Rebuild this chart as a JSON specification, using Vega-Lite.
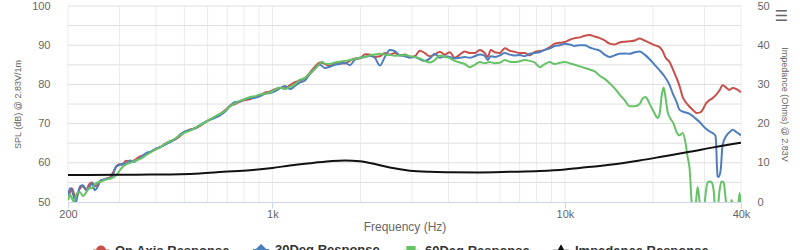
{
  "$schema": "https://vega.github.io/schema/vega-lite/v6.json",
  "width": 673,
  "height": 196,
  "autosize": {"type": "none"},
  "padding": {"left": 68, "top": 6, "right": 59, "bottom": 48},
  "background": "white",
  "title": {"text": "☰", "anchor": "end", "frame": "bounds", "orient": "top", "offset": -17, "dy": 7, "font": "DejaVu Sans", "fontSize": 15, "fontWeight": "normal", "color": "#666666"},
  "config": {
    "view": {"stroke": null},
    "font": "Liberation Sans",
    "axis": {"labelFont": "Liberation Sans", "titleFont": "Liberation Sans", "labelColor": "#666666", "titleColor": "#666666", "titleFontWeight": "normal", "labelFontSize": 11}
  },
  "datasets": {
    "grid": [{"f":200},{"f":300},{"f":400},{"f":500},{"f":600},{"f":700},{"f":800},{"f":900},{"f":1000},{"f":2000},{"f":3000},{"f":4000},{"f":5000},{"f":6000},{"f":7000},{"f":8000},{"f":9000},{"f":10000},{"f":20000},{"f":30000},{"f":40000}],
    "hgrid": [{"s":55},{"s":60},{"s":65},{"s":70},{"s":75},{"s":80},{"s":85},{"s":90},{"s":95},{"s":100}],
    "on": [{"f":200,"v":50.5},{"f":203,"v":52.5},{"f":206,"v":53.5},{"f":210,"v":52},{"f":213,"v":51},{"f":216,"v":52},{"f":220,"v":53.5},{"f":225,"v":54},{"f":231,"v":53},{"f":236,"v":54.5},{"f":242,"v":55},{"f":247,"v":54},{"f":253,"v":54.5},{"f":259,"v":55.5},{"f":266,"v":55.6},{"f":272,"v":56},{"f":279,"v":56.3},{"f":285,"v":57.5},{"f":292,"v":59},{"f":299,"v":59.6},{"f":306,"v":59.5},{"f":316,"v":60.5},{"f":326,"v":60.3},{"f":336,"v":60.6},{"f":347,"v":61.3},{"f":358,"v":61.8},{"f":370,"v":62.2},{"f":382,"v":62.7},{"f":397,"v":63.4},{"f":413,"v":64},{"f":429,"v":64.8},{"f":447,"v":65.5},{"f":465,"v":66},{"f":483,"v":66.8},{"f":502,"v":67.8},{"f":523,"v":68.5},{"f":544,"v":68.8},{"f":565,"v":69.4},{"f":588,"v":70.3},{"f":612,"v":71},{"f":636,"v":71.7},{"f":662,"v":72.4},{"f":688,"v":73.4},{"f":716,"v":74.5},{"f":745,"v":75},{"f":774,"v":75.6},{"f":805,"v":76},{"f":838,"v":76.2},{"f":871,"v":76.8},{"f":906,"v":77.2},{"f":943,"v":77.9},{"f":981,"v":78.2},{"f":1020,"v":78.8},{"f":1061,"v":79.1},{"f":1103,"v":79},{"f":1148,"v":79.8},{"f":1194,"v":80.6},{"f":1241,"v":81},{"f":1291,"v":81.6},{"f":1343,"v":83},{"f":1397,"v":84.5},{"f":1453,"v":85.6},{"f":1511,"v":85.2},{"f":1572,"v":84.7},{"f":1635,"v":85.3},{"f":1701,"v":85.6},{"f":1769,"v":85.3},{"f":1840,"v":86},{"f":1914,"v":86.6},{"f":1990,"v":86.6},{"f":2070,"v":87.7},{"f":2153,"v":87.6},{"f":2240,"v":87},{"f":2329,"v":87.2},{"f":2423,"v":88},{"f":2520,"v":87.6},{"f":2621,"v":88},{"f":2726,"v":87.4},{"f":2836,"v":87.6},{"f":2949,"v":87},{"f":3068,"v":87.2},{"f":3191,"v":88.6},{"f":3319,"v":88},{"f":3452,"v":87.2},{"f":3591,"v":87.6},{"f":3735,"v":88.3},{"f":3884,"v":87.6},{"f":4040,"v":88.2},{"f":4202,"v":86.8},{"f":4371,"v":87.6},{"f":4546,"v":88.4},{"f":4729,"v":88},{"f":4918,"v":88},{"f":5116,"v":88.8},{"f":5321,"v":88},{"f":5448,"v":87},{"f":5578,"v":88.8},{"f":5756,"v":88.2},{"f":5987,"v":88},{"f":6227,"v":89.2},{"f":6477,"v":88.6},{"f":6737,"v":88.3},{"f":7007,"v":88},{"f":7288,"v":88},{"f":7581,"v":87.4},{"f":7885,"v":88.3},{"f":8201,"v":88.5},{"f":8530,"v":88.8},{"f":8872,"v":89.5},{"f":9228,"v":90.4},{"f":9599,"v":90.6},{"f":9984,"v":90.8},{"f":10384,"v":91.4},{"f":10801,"v":91.8},{"f":11234,"v":92},{"f":11685,"v":92.4},{"f":12153,"v":92.6},{"f":12641,"v":92.2},{"f":13148,"v":91.8},{"f":13676,"v":91.2},{"f":14224,"v":90.4},{"f":14795,"v":90.2},{"f":15388,"v":90.7},{"f":16006,"v":90.9},{"f":16648,"v":91},{"f":17316,"v":91.2},{"f":18010,"v":91.7},{"f":18733,"v":91.2},{"f":19484,"v":90.6},{"f":20266,"v":90},{"f":21079,"v":89.5},{"f":21583,"v":88.5},{"f":22097,"v":86.8},{"f":22804,"v":85.7},{"f":23346,"v":84},{"f":24095,"v":81.6},{"f":24671,"v":79.5},{"f":25261,"v":76.8},{"f":25863,"v":75.5},{"f":26690,"v":74.3},{"f":27543,"v":73.3},{"f":28201,"v":72.7},{"f":28874,"v":72.8},{"f":29564,"v":73.5},{"f":30270,"v":75},{"f":31238,"v":76},{"f":31984,"v":76.5},{"f":32748,"v":77.2},{"f":33794,"v":78.5},{"f":34601,"v":79.8},{"f":35428,"v":79.3},{"f":36560,"v":78.6},{"f":37433,"v":79.1},{"f":38630,"v":78.8},{"f":40000,"v":78}],
    "d30": [{"f":200,"v":51.5},{"f":203,"v":53.5},{"f":206,"v":53},{"f":210,"v":51},{"f":213,"v":50},{"f":216,"v":52},{"f":220,"v":54},{"f":225,"v":54.3},{"f":231,"v":53},{"f":236,"v":53.5},{"f":242,"v":54.8},{"f":247,"v":53},{"f":253,"v":54},{"f":259,"v":55.5},{"f":266,"v":55.8},{"f":272,"v":56},{"f":279,"v":56},{"f":285,"v":57},{"f":292,"v":59},{"f":299,"v":59.4},{"f":306,"v":59.7},{"f":316,"v":59.8},{"f":326,"v":60.6},{"f":336,"v":60.2},{"f":347,"v":60.9},{"f":358,"v":61.6},{"f":370,"v":62.5},{"f":382,"v":62.8},{"f":397,"v":63.5},{"f":413,"v":64},{"f":429,"v":64.6},{"f":447,"v":65.3},{"f":465,"v":66},{"f":483,"v":67.2},{"f":502,"v":68},{"f":523,"v":68.4},{"f":544,"v":68.8},{"f":565,"v":69.6},{"f":588,"v":70.4},{"f":612,"v":71},{"f":636,"v":71.5},{"f":662,"v":72.1},{"f":688,"v":73},{"f":716,"v":74.5},{"f":745,"v":75.5},{"f":774,"v":75.6},{"f":805,"v":76.3},{"f":838,"v":76.5},{"f":871,"v":76.6},{"f":906,"v":77},{"f":943,"v":77.6},{"f":981,"v":77.8},{"f":1020,"v":78.2},{"f":1061,"v":79},{"f":1103,"v":79.6},{"f":1148,"v":78.8},{"f":1194,"v":79.6},{"f":1241,"v":80.5},{"f":1291,"v":81},{"f":1343,"v":82.6},{"f":1397,"v":84},{"f":1453,"v":85},{"f":1511,"v":84.2},{"f":1572,"v":84.5},{"f":1635,"v":85},{"f":1701,"v":85.2},{"f":1769,"v":85.5},{"f":1840,"v":84.9},{"f":1914,"v":86.3},{"f":1990,"v":86.8},{"f":2070,"v":87},{"f":2153,"v":87.3},{"f":2240,"v":86.8},{"f":2329,"v":84.8},{"f":2423,"v":87},{"f":2520,"v":88.8},{"f":2621,"v":88.5},{"f":2726,"v":87.4},{"f":2836,"v":87.2},{"f":2949,"v":86.8},{"f":3068,"v":87},{"f":3191,"v":86.4},{"f":3319,"v":86},{"f":3452,"v":86.6},{"f":3591,"v":87.8},{"f":3735,"v":86.8},{"f":3884,"v":87.2},{"f":4040,"v":87},{"f":4202,"v":86.6},{"f":4371,"v":86.8},{"f":4546,"v":87},{"f":4729,"v":86.8},{"f":4918,"v":87.2},{"f":5116,"v":87.6},{"f":5321,"v":87.3},{"f":5448,"v":86.2},{"f":5578,"v":87.2},{"f":5756,"v":87},{"f":5987,"v":87.4},{"f":6227,"v":88},{"f":6477,"v":87.6},{"f":6737,"v":87.4},{"f":7007,"v":87.5},{"f":7288,"v":87.2},{"f":7581,"v":87.8},{"f":7885,"v":88},{"f":8201,"v":88.2},{"f":8530,"v":88.8},{"f":8872,"v":89.2},{"f":9228,"v":89.8},{"f":9599,"v":90},{"f":9984,"v":90.4},{"f":10384,"v":90.2},{"f":10801,"v":89.8},{"f":11234,"v":90},{"f":11685,"v":90},{"f":12153,"v":89.4},{"f":12641,"v":89},{"f":13148,"v":88.6},{"f":13676,"v":87.6},{"f":14224,"v":87},{"f":14795,"v":87.4},{"f":15388,"v":87.8},{"f":16006,"v":87.9},{"f":16648,"v":87.8},{"f":17316,"v":88.2},{"f":18010,"v":88.4},{"f":18733,"v":87.6},{"f":19484,"v":86.4},{"f":20266,"v":85},{"f":21079,"v":83.6},{"f":21925,"v":82},{"f":22804,"v":79.8},{"f":23346,"v":77.8},{"f":24095,"v":75.5},{"f":24671,"v":73.5},{"f":25661,"v":72.9},{"f":26690,"v":72.5},{"f":27761,"v":71.5},{"f":28874,"v":70.4},{"f":30033,"v":69},{"f":31238,"v":68},{"f":31984,"v":67.6},{"f":32748,"v":66.8},{"f":33267,"v":56.6},{"f":33530,"v":56.4},{"f":34061,"v":58},{"f":34601,"v":64.5},{"f":35708,"v":67},{"f":36560,"v":67.8},{"f":37433,"v":68.4},{"f":38630,"v":67.8},{"f":40000,"v":67}],
    "d60": [{"f":200,"v":50.5},{"f":203,"v":52},{"f":206,"v":51},{"f":210,"v":50},{"f":213,"v":51.5},{"f":216,"v":52.5},{"f":220,"v":52.5},{"f":225,"v":51.5},{"f":231,"v":52.5},{"f":236,"v":53.5},{"f":242,"v":53.5},{"f":247,"v":54.5},{"f":253,"v":55},{"f":259,"v":55.2},{"f":266,"v":55.6},{"f":272,"v":55.8},{"f":279,"v":56},{"f":285,"v":56.2},{"f":292,"v":56.8},{"f":299,"v":57.8},{"f":306,"v":58.8},{"f":316,"v":59.6},{"f":326,"v":60},{"f":336,"v":60.4},{"f":347,"v":60.8},{"f":358,"v":61.2},{"f":370,"v":62},{"f":382,"v":62.6},{"f":397,"v":63.3},{"f":413,"v":63.9},{"f":429,"v":64.8},{"f":447,"v":65.5},{"f":465,"v":66.2},{"f":483,"v":67},{"f":502,"v":67.7},{"f":523,"v":68.2},{"f":544,"v":68.9},{"f":565,"v":69.6},{"f":588,"v":70.3},{"f":612,"v":71.1},{"f":636,"v":71.8},{"f":662,"v":72.5},{"f":688,"v":73.2},{"f":716,"v":74.4},{"f":745,"v":75.2},{"f":774,"v":75.8},{"f":805,"v":76.2},{"f":838,"v":76.8},{"f":871,"v":77},{"f":906,"v":77.4},{"f":943,"v":77.6},{"f":981,"v":78},{"f":1020,"v":78.6},{"f":1061,"v":79.2},{"f":1103,"v":78.8},{"f":1148,"v":79.4},{"f":1194,"v":80},{"f":1241,"v":81.2},{"f":1291,"v":81.6},{"f":1343,"v":82.8},{"f":1397,"v":84},{"f":1453,"v":85.4},{"f":1476,"v":85.8},{"f":1511,"v":85.3},{"f":1572,"v":85.2},{"f":1635,"v":85.6},{"f":1701,"v":85.8},{"f":1769,"v":86},{"f":1840,"v":86.2},{"f":1914,"v":86.5},{"f":1990,"v":86.8},{"f":2070,"v":87},{"f":2153,"v":87.4},{"f":2240,"v":87.6},{"f":2329,"v":87.8},{"f":2423,"v":87.6},{"f":2520,"v":87.5},{"f":2621,"v":87.3},{"f":2726,"v":87.4},{"f":2836,"v":87.5},{"f":2949,"v":87.2},{"f":3068,"v":87},{"f":3191,"v":86.6},{"f":3319,"v":86},{"f":3452,"v":85.6},{"f":3591,"v":86.2},{"f":3735,"v":87.4},{"f":3884,"v":87},{"f":4040,"v":86.7},{"f":4202,"v":86},{"f":4371,"v":85.6},{"f":4546,"v":85.2},{"f":4729,"v":84.4},{"f":4918,"v":85},{"f":5116,"v":85.7},{"f":5321,"v":85.4},{"f":5534,"v":85.7},{"f":5756,"v":85.4},{"f":5987,"v":85.5},{"f":6227,"v":86.2},{"f":6477,"v":85.8},{"f":6737,"v":85.7},{"f":7007,"v":85.9},{"f":7288,"v":86.2},{"f":7581,"v":86},{"f":7885,"v":85.6},{"f":8201,"v":84.4},{"f":8530,"v":85.2},{"f":8872,"v":85.7},{"f":9228,"v":85.2},{"f":9599,"v":85.5},{"f":9984,"v":85.7},{"f":10384,"v":85.4},{"f":10801,"v":85},{"f":11234,"v":84.6},{"f":11685,"v":84.2},{"f":12153,"v":83.8},{"f":12641,"v":83.3},{"f":13148,"v":82.2},{"f":13676,"v":81.4},{"f":14224,"v":80.3},{"f":14795,"v":79},{"f":15388,"v":77.4},{"f":16006,"v":76},{"f":16648,"v":74.4},{"f":17316,"v":74.4},{"f":18010,"v":75},{"f":18439,"v":76.4},{"f":18881,"v":76.8},{"f":19331,"v":75.6},{"f":19792,"v":74},{"f":20266,"v":72.6},{"f":20749,"v":71.4},{"f":21079,"v":72.5},{"f":21414,"v":77},{"f":21753,"v":79.2},{"f":22097,"v":76.5},{"f":22447,"v":73},{"f":22984,"v":71.2},{"f":23530,"v":70},{"f":24095,"v":67.8},{"f":24671,"v":67},{"f":25261,"v":67.6},{"f":25863,"v":65},{"f":26274,"v":61.5},{"f":26690,"v":58.5},{"f":27113,"v":50},{"f":27543,"v":45},{"f":27980,"v":49},{"f":28424,"v":53.8},{"f":28874,"v":50},{"f":29332,"v":46},{"f":29797,"v":47},{"f":30270,"v":52},{"f":30751,"v":55},{"f":31238,"v":55.2},{"f":31733,"v":55},{"f":32237,"v":53},{"f":32748,"v":47},{"f":33267,"v":48},{"f":33794,"v":53},{"f":34330,"v":55.2},{"f":34874,"v":55},{"f":35428,"v":51},{"f":35990,"v":46},{"f":36560,"v":48},{"f":37140,"v":50.5},{"f":37729,"v":48},{"f":38328,"v":45},{"f":38935,"v":47},{"f":39553,"v":52.3},{"f":40000,"v":49}],
    "imp": [{"f":200,"v":6.9},{"f":236,"v":6.9},{"f":299,"v":6.95},{"f":382,"v":7.0},{"f":483,"v":7.1},{"f":565,"v":7.3},{"f":680,"v":7.7},{"f":838,"v":8.1},{"f":1000,"v":8.7},{"f":1148,"v":9.3},{"f":1343,"v":9.9},{"f":1572,"v":10.4},{"f":1769,"v":10.6},{"f":1990,"v":10.4},{"f":2240,"v":9.7},{"f":2520,"v":8.8},{"f":2949,"v":8.0},{"f":3452,"v":7.7},{"f":4040,"v":7.6},{"f":5116,"v":7.55},{"f":6477,"v":7.7},{"f":8201,"v":7.9},{"f":10000,"v":8.3},{"f":11234,"v":8.7},{"f":13148,"v":9.2},{"f":14224,"v":9.5},{"f":18010,"v":10.6},{"f":21583,"v":11.6},{"f":26690,"v":12.8},{"f":32491,"v":14.0},{"f":40000,"v":15.1}]
  },
  "layer": [
    {
      "data": {"name": "grid"},
      "mark": {"type": "rule", "color": "#ebebeb", "strokeWidth": 1},
      "encoding": {
        "x": {"field": "f", "type": "quantitative", "scale": {"type": "log", "domain": [200, 40000]}}
      }
    },
    {
      "data": {"name": "hgrid"},
      "mark": {"type": "rule", "color": "#dedede", "strokeWidth": 1},
      "encoding": {
        "y": {"field": "s", "type": "quantitative", "scale": {"domain": [50, 100]}, "axis": null}
      }
    },
    {
      "data": {"name": "on"},
      "mark": {"type": "line", "strokeWidth": 2, "clip": true, "interpolate": "monotone"},
      "encoding": {
        "x": {"field": "f", "type": "quantitative", "scale": {"type": "log", "domain": [200, 40000]},
          "axis": {"values": [200, 1000, 10000, 40000], "labelExpr": "datum.value >= 1000 ? (datum.value / 1000) + 'k' : datum.label", "title": "Frequency (Hz)", "titleFontSize": 12, "grid": false, "domainColor": "#ccd6eb", "tickColor": "#ccd6eb", "tickSize": 6, "labelPadding": 0, "titlePadding": 2, "labelFlush": false, "labelOverlap": false}},
        "y": {"field": "v", "type": "quantitative", "scale": {"domain": [50, 100]},
          "axis": {"orient": "left", "values": [50, 60, 70, 80, 90, 100], "labelOverlap": false, "title": "SPL (dB) @ 2.83V/1m", "titleFontSize": 9, "grid": false, "ticks": false, "domain": false, "labelPadding": 18, "titlePadding": 9, "labelFlush": false}},
        "color": {"datum": "On Axis Response", "type": "nominal",
          "scale": {"domain": ["On Axis Response", "30Deg Response", "60Deg Response", "Impedance Response"], "range": ["#c8504b", "#4d7fbf", "#66c266", "#111111"]},
          "legend": {
            "title": null, "orient": "none", "direction": "horizontal", "legendX": 24, "legendY": 235,
            "labelFont": "Liberation Sans", "labelFontSize": 13, "labelFontWeight": "bold", "labelColor": "#333333",
            "symbolSize": 256, "symbolStrokeWidth": 2, "labelOffset": 5, "columnPadding": 19, "columns": 4,
            "encode": {"symbols": {"update": {
              "shape": {"signal": "datum.value === 'On Axis Response' ? 'M-1,0H1M0.5,0A0.5,0.5,0,1,1,-0.5,0A0.5,0.5,0,1,1,0.5,0Z' : datum.value === '30Deg Response' ? 'M-1,0H1M0,-0.6L0.6,0L0,0.6L-0.6,0Z' : datum.value === '60Deg Response' ? 'M-1,0H1M-0.45,-0.45H0.45V0.45H-0.45Z' : 'M-1,0H1M0,-0.55L0.55,0.45H-0.55Z'"},
              "fill": {"signal": "scale('color', datum.value)"},
              "stroke": {"signal": "scale('color', datum.value)"},
              "strokeWidth": {"value": 2},
              "opacity": {"value": 1}
            }}}
          }}
      }
    },
    {
      "data": {"name": "d30"},
      "mark": {"type": "line", "strokeWidth": 2, "clip": true, "interpolate": "monotone"},
      "encoding": {
        "x": {"field": "f", "type": "quantitative", "scale": {"type": "log", "domain": [200, 40000]}},
        "y": {"field": "v", "type": "quantitative", "scale": {"domain": [50, 100]}, "axis": null},
        "color": {"datum": "30Deg Response", "type": "nominal"}
      }
    },
    {
      "data": {"name": "d60"},
      "mark": {"type": "line", "strokeWidth": 2, "clip": true, "interpolate": "monotone"},
      "encoding": {
        "x": {"field": "f", "type": "quantitative", "scale": {"type": "log", "domain": [200, 40000]}},
        "y": {"field": "v", "type": "quantitative", "scale": {"domain": [50, 100]}, "axis": null},
        "color": {"datum": "60Deg Response", "type": "nominal"}
      }
    },
    {
      "data": {"name": "imp"},
      "mark": {"type": "line", "strokeWidth": 2, "clip": true, "interpolate": "monotone"},
      "encoding": {
        "x": {"field": "f", "type": "quantitative", "scale": {"type": "log", "domain": [200, 40000]}},
        "y": {"field": "v", "type": "quantitative", "scale": {"domain": [0, 50]},
          "axis": {"orient": "right", "values": [0, 10, 20, 30, 40, 50], "labelOverlap": false, "title": "Impedance (Ohms) @ 2.83V", "titleFontSize": 9, "grid": false, "ticks": false, "domain": false, "labelPadding": 16, "titlePadding": 10, "labelFlush": false}},
        "color": {"datum": "Impedance Response", "type": "nominal"}
      }
    }
  ],
  "resolve": {"scale": {"y": "independent"}, "axis": {"y": "independent"}}
}
